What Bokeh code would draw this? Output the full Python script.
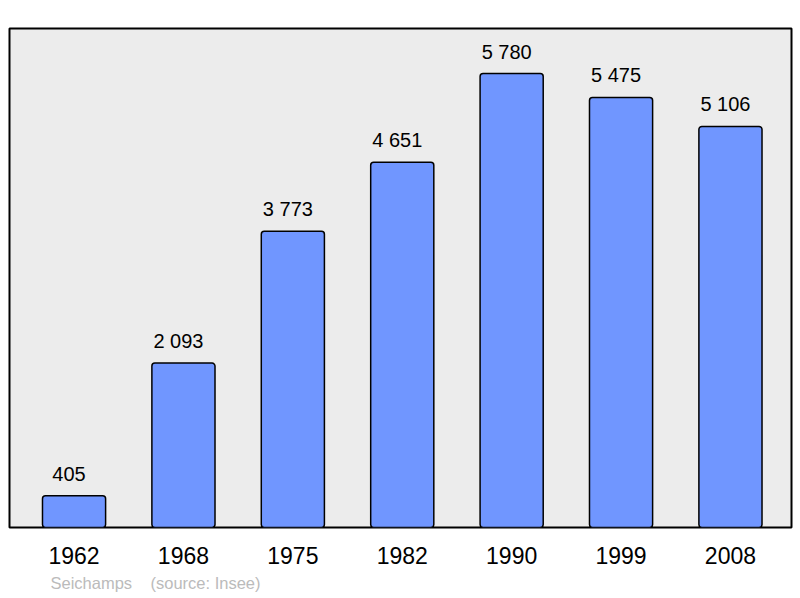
from bokeh.plotting import figure
from bokeh.models import Range1d, FixedTicker, ColumnDataSource, Title
from bokeh.core.properties import value
from bokeh.embed import file_html
from bokeh.resources import INLINE

years = ["1962", "1968", "1975", "1982", "1990", "1999", "2008"]
population = [405, 2093, 3773, 4651, 5780, 5475, 5106]
value_labels = ["405", "2 093", "3 773", "4 651", "5 780", "5 475", "5 106"]
footer = "Seichamps\u00a0\u00a0\u00a0\u00a0(source: Insee)"

xs = list(range(len(years)))
src = ColumnDataSource(dict(x=xs, top=population, lab=value_labels))

FONT = "Liberation Sans"

p = figure(width=800, height=598, output_backend="svg", toolbar_location=None,
           x_range=Range1d(-0.59, 6.558), y_range=Range1d(0, 6353),
           min_border_left=9, min_border_right=9, min_border_top=28, min_border_bottom=71)
p.background_fill_color = "#ececec"
p.border_fill_color = "white"
p.outline_line_color = "black"
p.outline_line_width = 2
p.grid.visible = False
p.yaxis.visible = False

p.vbar(x="x", top="top", bottom=0, width=0.577, source=src,
       fill_color="#7096ff", line_color="black", line_width=1.5, border_radius=3)

p.text(x="x", y="top", text="lab", source=src, text_align="center",
       text_baseline="alphabetic", x_offset=-5, y_offset=-22, text_font=value(FONT),
       text_font_size="20px", text_color="black")

ax = p.xaxis[0]
ax.ticker = FixedTicker(ticks=xs)
ax.major_label_overrides = {i: y for i, y in zip(xs, years)}
ax.axis_line_color = None
ax.major_tick_line_color = None
ax.minor_tick_line_color = None
ax.major_tick_out = 0
ax.major_tick_in = 0
ax.major_label_standoff = 19
ax.major_label_text_font = FONT
ax.major_label_text_font_size = "23px"
ax.major_label_text_color = "black"

t = Title(text=footer, align="left", offset=41, text_font=FONT,
          text_font_size="16.5px", text_color="#bbbbbb", text_font_style="normal", standoff=10)
p.add_layout(t, "below")

open("out.html", "w").write(file_html(p, INLINE))
